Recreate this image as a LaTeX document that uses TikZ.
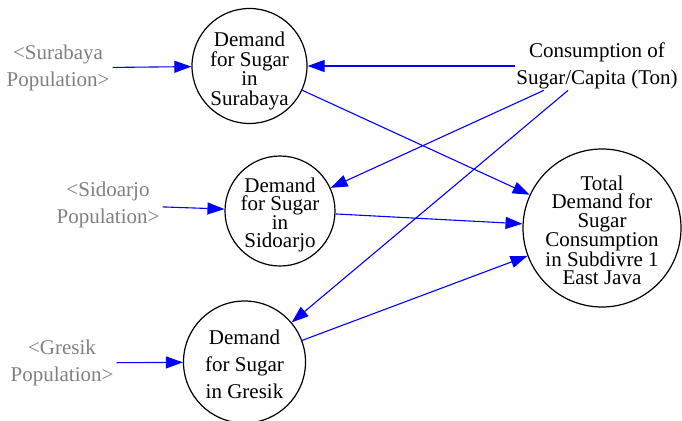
\documentclass[tikz,border=0pt]{standalone}
\usepackage{fontspec}
\setmainfont{Liberation Serif}
\usetikzlibrary{arrows.meta}
\definecolor{linkblue}{RGB}{0,0,255}
\definecolor{shadowgray}{RGB}{128,128,128}
\begin{document}
\begin{tikzpicture}[x=1pt,y=-1pt,
  stock/.style={circle, draw=black, line width=1.2pt, inner sep=0pt},
  stocktext/.style={align=center, inner sep=0pt, font=\rmfamily\fontsize{21}{19.5}\selectfont},
  shadowvar/.style={text=shadowgray, align=center, inner sep=3pt,
    font=\rmfamily\fontsize{21}{26.5}\selectfont},
  auxvar/.style={align=center, inner sep=1pt, font=\rmfamily\fontsize{21}{27}\selectfont},
  link/.style={draw=linkblue, line width=1.1pt,
    -{Triangle[length=17pt,width=12pt,fill=linkblue]}}]
\useasboundingbox (0,0) rectangle (682,420);

% demand circles
\node[stock, minimum size=115pt] (sur) at (249.5,66) {};
\node[stock, minimum size=110pt] (sid) at (280,211) {};
\node[stock, minimum size=122pt] (gre) at (244.5,362) {};
\node[stock, minimum size=158pt] (tot) at (602,228) {};

% their labels
\node[stocktext] (surtext) at (249.5,71) {Demand\\for Sugar\\in\\Surabaya};
\node[stocktext, font=\rmfamily\fontsize{21}{18.5}\selectfont] (sidtext) at (280,215)
  {Demand\\for Sugar\\in\\Sidoarjo};
\node[stocktext, font=\rmfamily\fontsize{21}{27}\selectfont] (gretext) at (244.5,364.5)
  {Demand\\for Sugar\\in Gresik};
\node[stocktext, font=\rmfamily\fontsize{21}{18.3}\selectfont] (tottext) at (602,230.5)
  {Total\\Demand for\\Sugar\\Consumption\\in Subdivre 1\\East Java};

% population shadow variables
\node[shadowvar] (psur) at (58,68) {<Surabaya\\Population>};
\node[shadowvar] (psid) at (108,205) {<Sidoarjo\\Population>};
\node[shadowvar] (pgre) at (62,363) {<Gresik\\Population>};

% per-capita consumption
\node[auxvar] (cons) at (597,66) {Consumption of\\Sugar/Capita (Ton)};

% links
\draw[link] (psur) -- (sur);
\draw[link] (psid) -- (sid);
\draw[link] (pgre) -- (gre);
\draw[link] (cons) -- (sur);
\draw[link] (cons) -- (sid);
\draw[link] (cons) -- (gre);
\draw[link] (sur) -- (tot);
\draw[link] (sid) -- (tot);
\draw[link] (gre) -- (tot);
\end{tikzpicture}
\end{document}
